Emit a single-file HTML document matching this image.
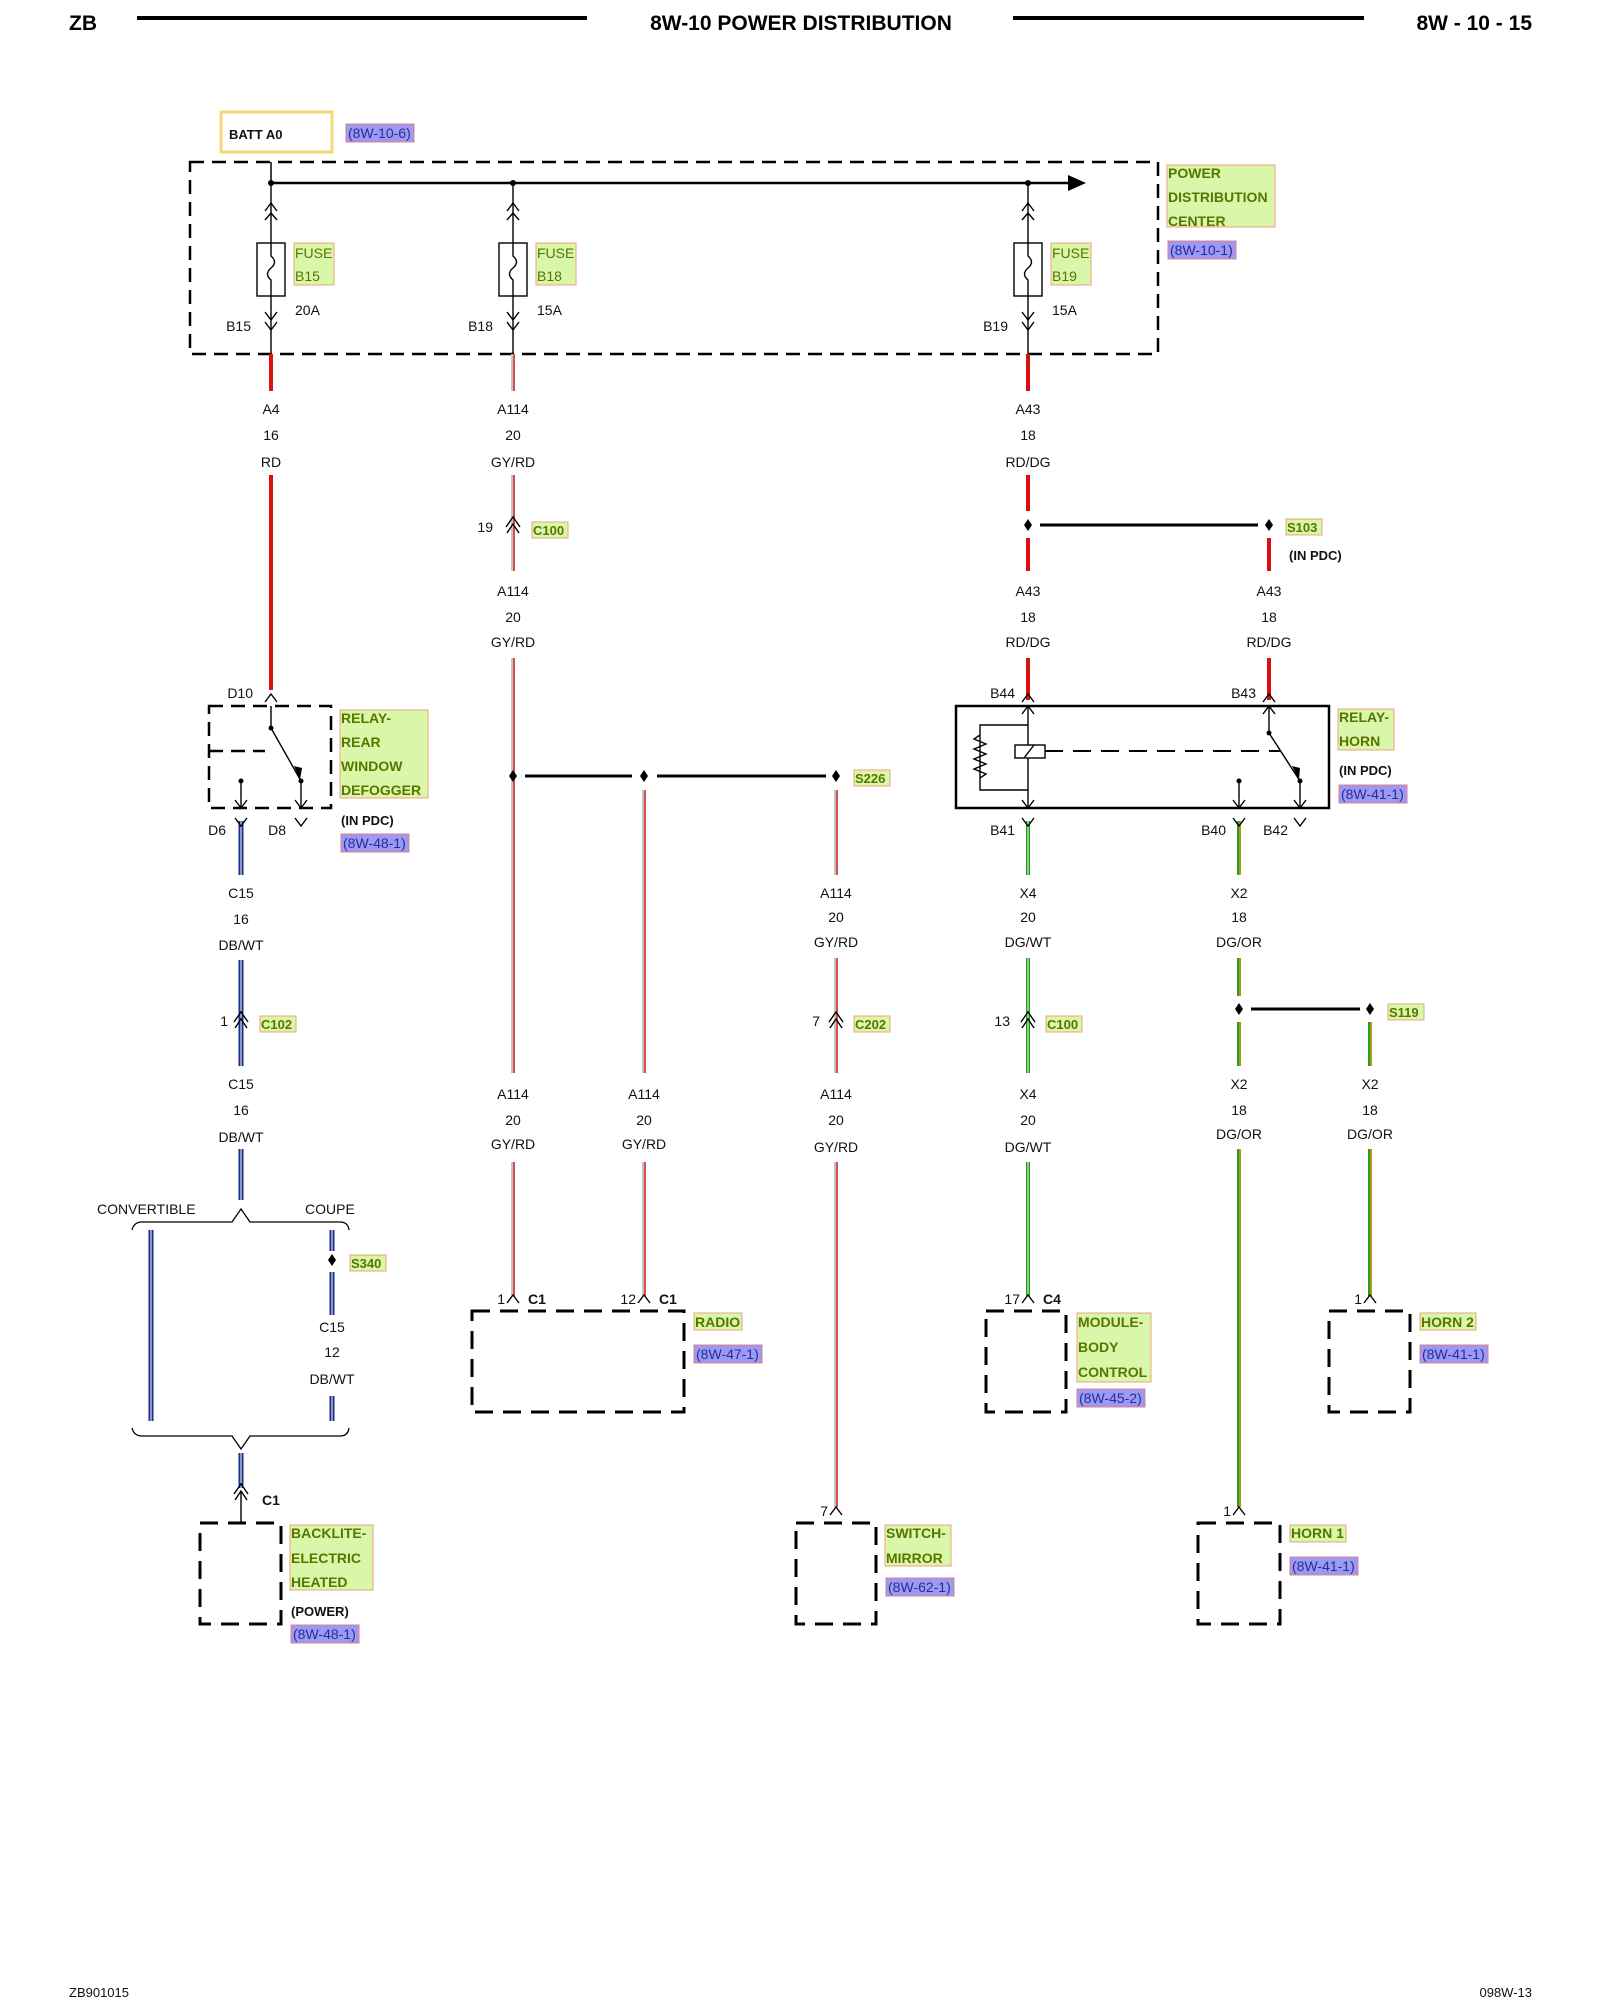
<!DOCTYPE html>
<html><head><meta charset="utf-8"><style>
html,body{margin:0;padding:0;background:#fff;}
svg{display:block;font-family:"Liberation Sans",Arial,sans-serif;}
.t{font-size:14px;fill:#111;text-anchor:middle;}
.tl{font-size:14px;fill:#111;}
.b{font-weight:bold;}
.g{font-size:14px;fill:#5a7400;font-weight:bold;}
.r{font-size:14px;fill:#2a2aa0;}
</style></head><body>
<svg width="1600" height="2000" viewBox="0 0 1600 2000" xmlns="http://www.w3.org/2000/svg">
<!-- header -->
<text x="69" y="30" style="font-size:21px;font-weight:bold">ZB</text>
<line x1="137" y1="18" x2="587" y2="18" stroke="#000" stroke-width="4"/>
<text x="801" y="30" text-anchor="middle" style="font-size:21px;font-weight:bold">8W-10 POWER DISTRIBUTION</text>
<line x1="1013" y1="18" x2="1364" y2="18" stroke="#000" stroke-width="4"/>
<text x="1532" y="30" text-anchor="end" style="font-size:21px;font-weight:bold">8W - 10 - 15</text>

<!-- BATT A0 -->
<rect x="221" y="112" width="111" height="40" fill="#fff" stroke="#f5d77a" stroke-width="3"/>
<text x="229" y="139" class="tl b" style="font-size:13px">BATT A0</text>
<rect x="346" y="124" width="68" height="18" fill="#9a9af0" stroke="#e08090"/>
<text x="348" y="138" class="r">(8W-10-6)</text>

<!-- PDC box -->
<rect x="190" y="162" width="968" height="192" fill="none" stroke="#000" stroke-width="2.5" stroke-dasharray="14,8"/>
<line x1="271" y1="162" x2="271" y2="183" stroke="#000" stroke-width="1.5"/>
<line x1="271" y1="183" x2="1072" y2="183" stroke="#000" stroke-width="2.5"/>
<path d="M1068,175 L1086,183 L1068,191 Z" fill="#000"/>
<g fill="#000"><circle cx="271" cy="183" r="3"/><circle cx="513" cy="183" r="3"/><circle cx="1028" cy="183" r="3"/></g>
<rect x="1167" y="165" width="108" height="62" fill="#d8f7a8" stroke="#f0a080"/>
<text x="1168" y="178" class="g">POWER</text>
<text x="1168" y="202" class="g">DISTRIBUTION</text>
<text x="1168" y="226" class="g">CENTER</text>
<rect x="1168" y="241" width="68" height="18" fill="#9a9af0" stroke="#e08090"/>
<text x="1170" y="255" class="r">(8W-10-1)</text>

<g stroke="#000" stroke-width="1.4" fill="none">
 <line x1="271" y1="183" x2="271" y2="243"/><polyline points="265,211 271,203 277,211"/><polyline points="265,220 271,213 277,220"/>
 <rect x="257" y="243" width="28" height="53" fill="#fff"/><path d="M271,243 V256 q7,6 0,12 q-7,6 0,12 V296"/>
 <line x1="271" y1="296" x2="271" y2="354"/><polyline points="265,312 271,320 277,312"/><polyline points="265,322 271,330 277,322"/>
 <line x1="513" y1="183" x2="513" y2="243"/><polyline points="507,211 513,203 519,211"/><polyline points="507,220 513,213 519,220"/>
 <rect x="499" y="243" width="28" height="53" fill="#fff"/><path d="M513,243 V256 q7,6 0,12 q-7,6 0,12 V296"/>
 <line x1="513" y1="296" x2="513" y2="354"/><polyline points="507,312 513,320 519,312"/><polyline points="507,322 513,330 519,322"/>
 <line x1="1028" y1="183" x2="1028" y2="243"/><polyline points="1022,211 1028,203 1034,211"/><polyline points="1022,220 1028,213 1034,220"/>
 <rect x="1014" y="243" width="28" height="53" fill="#fff"/><path d="M1028,243 V256 q7,6 0,12 q-7,6 0,12 V296"/>
 <line x1="1028" y1="296" x2="1028" y2="354"/><polyline points="1022,312 1028,320 1034,312"/><polyline points="1022,322 1028,330 1034,322"/>
</g>
<g>
 <rect x="294" y="243" width="40" height="42" fill="#d8f7a8" stroke="#f0a080"/>
 <text x="295" y="258" class="g" style="font-weight:normal">FUSE</text><text x="295" y="281" class="g" style="font-weight:normal">B15</text>
 <rect x="536" y="243" width="40" height="42" fill="#d8f7a8" stroke="#f0a080"/>
 <text x="537" y="258" class="g" style="font-weight:normal">FUSE</text><text x="537" y="281" class="g" style="font-weight:normal">B18</text>
 <rect x="1051" y="243" width="40" height="42" fill="#d8f7a8" stroke="#f0a080"/>
 <text x="1052" y="258" class="g" style="font-weight:normal">FUSE</text><text x="1052" y="281" class="g" style="font-weight:normal">B19</text>
 <text x="295" y="315" class="tl">20A</text><text x="537" y="315" class="tl">15A</text><text x="1052" y="315" class="tl">15A</text>
 <text x="251" y="331" class="tl" text-anchor="end">B15</text><text x="493" y="331" class="tl" text-anchor="end">B18</text><text x="1008" y="331" class="tl" text-anchor="end">B19</text>
</g>

<!-- wires -->
<g>
 <line x1="271" y1="354" x2="271" y2="391" stroke="#e01010" stroke-width="4"/>
 <line x1="271" y1="475" x2="271" y2="690" stroke="#e01010" stroke-width="4"/>
 <g stroke="#c4c4c4" stroke-width="4">
  <line x1="513" y1="354" x2="513" y2="391"/><line x1="513" y1="475" x2="513" y2="571"/>
  <line x1="513" y1="658" x2="513" y2="1073"/><line x1="513" y1="1162" x2="513" y2="1296"/>
  <line x1="644" y1="790" x2="644" y2="1073"/><line x1="644" y1="1162" x2="644" y2="1296"/>
  <line x1="836" y1="790" x2="836" y2="875"/><line x1="836" y1="958" x2="836" y2="1073"/><line x1="836" y1="1162" x2="836" y2="1507"/>
 </g>
 <g stroke="#e01010" stroke-width="1.3">
  <line x1="514" y1="354" x2="514" y2="391"/><line x1="514" y1="475" x2="514" y2="571"/>
  <line x1="514" y1="658" x2="514" y2="1073"/><line x1="514" y1="1162" x2="514" y2="1296"/>
  <line x1="645" y1="790" x2="645" y2="1073"/><line x1="645" y1="1162" x2="645" y2="1296"/>
  <line x1="837" y1="790" x2="837" y2="875"/><line x1="837" y1="958" x2="837" y2="1073"/><line x1="837" y1="1162" x2="837" y2="1507"/>
 </g>
 <g stroke="#d81010" stroke-width="4">
  <line x1="1028" y1="354" x2="1028" y2="391"/><line x1="1028" y1="475" x2="1028" y2="511"/>
  <line x1="1028" y1="538" x2="1028" y2="571"/><line x1="1028" y1="658" x2="1028" y2="700"/>
  <line x1="1269" y1="538" x2="1269" y2="571"/><line x1="1269" y1="658" x2="1269" y2="700"/>
 </g>
 <g stroke="#1a2f8a" stroke-width="5">
  <line x1="241" y1="821" x2="241" y2="875"/><line x1="241" y1="960" x2="241" y2="1066"/><line x1="241" y1="1149" x2="241" y2="1200"/>
  <line x1="151" y1="1230" x2="151" y2="1421"/><line x1="332" y1="1230" x2="332" y2="1251"/><line x1="332" y1="1272" x2="332" y2="1315"/>
  <line x1="332" y1="1396" x2="332" y2="1421"/><line x1="241" y1="1453" x2="241" y2="1488"/>
 </g>
 <g stroke="#fff" stroke-width="1">
  <line x1="241" y1="821" x2="241" y2="875"/><line x1="241" y1="960" x2="241" y2="1066"/><line x1="241" y1="1149" x2="241" y2="1200"/>
  <line x1="151" y1="1230" x2="151" y2="1421"/><line x1="332" y1="1230" x2="332" y2="1251"/><line x1="332" y1="1272" x2="332" y2="1315"/>
  <line x1="332" y1="1396" x2="332" y2="1421"/><line x1="241" y1="1453" x2="241" y2="1488"/>
 </g>
 <g stroke="#1d9a1d" stroke-width="4">
  <line x1="1028" y1="821" x2="1028" y2="875"/><line x1="1028" y1="958" x2="1028" y2="1073"/><line x1="1028" y1="1162" x2="1028" y2="1296"/>
 </g>
 <g stroke="#fff" stroke-width="1">
  <line x1="1028" y1="821" x2="1028" y2="875"/><line x1="1028" y1="958" x2="1028" y2="1073"/><line x1="1028" y1="1162" x2="1028" y2="1296"/>
 </g>
 <g stroke="#2a9a2a" stroke-width="4">
  <line x1="1239" y1="821" x2="1239" y2="875"/><line x1="1239" y1="958" x2="1239" y2="996"/><line x1="1239" y1="1022" x2="1239" y2="1066"/>
  <line x1="1239" y1="1149" x2="1239" y2="1507"/>
  <line x1="1370" y1="1022" x2="1370" y2="1066"/><line x1="1370" y1="1149" x2="1370" y2="1296"/>
 </g>
 <g stroke="#e8a000" stroke-width="1.3">
  <line x1="1240" y1="821" x2="1240" y2="875"/><line x1="1240" y1="958" x2="1240" y2="996"/><line x1="1240" y1="1022" x2="1240" y2="1066"/>
  <line x1="1240" y1="1149" x2="1240" y2="1507"/>
  <line x1="1371" y1="1022" x2="1371" y2="1066"/><line x1="1371" y1="1149" x2="1371" y2="1296"/>
 </g>
</g>

<!-- wire labels -->
<g>
 <text x="271" y="414" class="t">A4</text><text x="271" y="440" class="t">16</text><text x="271" y="467" class="t">RD</text>
 <text x="513" y="414" class="t">A114</text><text x="513" y="440" class="t">20</text><text x="513" y="467" class="t">GY/RD</text>
 <text x="1028" y="414" class="t">A43</text><text x="1028" y="440" class="t">18</text><text x="1028" y="467" class="t">RD/DG</text>
 <text x="513" y="596" class="t">A114</text><text x="513" y="622" class="t">20</text><text x="513" y="647" class="t">GY/RD</text>
 <text x="1028" y="596" class="t">A43</text><text x="1028" y="622" class="t">18</text><text x="1028" y="647" class="t">RD/DG</text>
 <text x="1269" y="596" class="t">A43</text><text x="1269" y="622" class="t">18</text><text x="1269" y="647" class="t">RD/DG</text>
 <text x="241" y="898" class="t">C15</text><text x="241" y="924" class="t">16</text><text x="241" y="950" class="t">DB/WT</text>
 <text x="836" y="898" class="t">A114</text><text x="836" y="922" class="t">20</text><text x="836" y="947" class="t">GY/RD</text>
 <text x="1028" y="898" class="t">X4</text><text x="1028" y="922" class="t">20</text><text x="1028" y="947" class="t">DG/WT</text>
 <text x="1239" y="898" class="t">X2</text><text x="1239" y="922" class="t">18</text><text x="1239" y="947" class="t">DG/OR</text>
 <text x="241" y="1089" class="t">C15</text><text x="241" y="1115" class="t">16</text><text x="241" y="1142" class="t">DB/WT</text>
 <text x="513" y="1099" class="t">A114</text><text x="513" y="1125" class="t">20</text><text x="513" y="1149" class="t">GY/RD</text>
 <text x="644" y="1099" class="t">A114</text><text x="644" y="1125" class="t">20</text><text x="644" y="1149" class="t">GY/RD</text>
 <text x="836" y="1099" class="t">A114</text><text x="836" y="1125" class="t">20</text><text x="836" y="1152" class="t">GY/RD</text>
 <text x="1028" y="1099" class="t">X4</text><text x="1028" y="1125" class="t">20</text><text x="1028" y="1152" class="t">DG/WT</text>
 <text x="1239" y="1089" class="t">X2</text><text x="1239" y="1115" class="t">18</text><text x="1239" y="1139" class="t">DG/OR</text>
 <text x="1370" y="1089" class="t">X2</text><text x="1370" y="1115" class="t">18</text><text x="1370" y="1139" class="t">DG/OR</text>
 <text x="332" y="1332" class="t">C15</text><text x="332" y="1357" class="t">12</text><text x="332" y="1384" class="t">DB/WT</text>
</g>

<!-- inline connectors -->
<g stroke="#000" stroke-width="1.4" fill="none">
 <polyline points="507,533 513,524 519,533"/><polyline points="506,527 513,517 520,527"/>
 <polyline points="235,1028 241,1019 247,1028"/><polyline points="234,1022 241,1012 248,1022"/>
 <polyline points="830,1028 836,1019 842,1028"/><polyline points="829,1022 836,1012 843,1022"/>
 <polyline points="1022,1028 1028,1019 1034,1028"/><polyline points="1021,1022 1028,1012 1035,1022"/>
</g>
<text x="493" y="532" class="tl" text-anchor="end">19</text>
<text x="228" y="1026" class="tl" text-anchor="end">1</text>
<text x="820" y="1026" class="tl" text-anchor="end">7</text>
<text x="1010" y="1026" class="tl" text-anchor="end">13</text>
<g>
 <rect x="532" y="522" width="36" height="16" fill="#d8f7a8" stroke="#f0a080"/><text x="533" y="535" class="g" style="font-size:13px">C100</text>
 <rect x="260" y="1016" width="36" height="16" fill="#d8f7a8" stroke="#f0a080"/><text x="261" y="1029" class="g" style="font-size:13px">C102</text>
 <rect x="854" y="1016" width="36" height="16" fill="#d8f7a8" stroke="#f0a080"/><text x="855" y="1029" class="g" style="font-size:13px">C202</text>
 <rect x="1046" y="1016" width="36" height="16" fill="#d8f7a8" stroke="#f0a080"/><text x="1047" y="1029" class="g" style="font-size:13px">C100</text>
</g>

<!-- splices -->
<g stroke="#000" stroke-width="3">
 <line x1="1040" y1="525" x2="1258" y2="525"/>
 <line x1="525" y1="776" x2="632" y2="776"/><line x1="657" y1="776" x2="826" y2="776"/>
 <line x1="1251" y1="1009" x2="1360" y2="1009"/>
</g>
<g fill="#000">
 <path d="M1028,519 l4,6 l-4,6 l-4,-6z"/><path d="M1269,519 l4,6 l-4,6 l-4,-6z"/>
 <path d="M513,770 l4,6 l-4,6 l-4,-6z"/><path d="M644,770 l4,6 l-4,6 l-4,-6z"/><path d="M836,770 l4,6 l-4,6 l-4,-6z"/>
 <path d="M1239,1003 l4,6 l-4,6 l-4,-6z"/><path d="M1370,1003 l4,6 l-4,6 l-4,-6z"/>
 <path d="M332,1254 l4,6 l-4,6 l-4,-6z"/>
</g>
<rect x="1286" y="519" width="36" height="16" fill="#d8f7a8" stroke="#f0a080"/><text x="1287" y="532" class="g" style="font-size:13px">S103</text>
<text x="1289" y="560" class="tl b" style="font-size:13px">(IN PDC)</text>
<rect x="854" y="770" width="36" height="16" fill="#d8f7a8" stroke="#f0a080"/><text x="855" y="783" class="g" style="font-size:13px">S226</text>
<rect x="1388" y="1004" width="36" height="16" fill="#d8f7a8" stroke="#f0a080"/><text x="1389" y="1017" class="g" style="font-size:13px">S119</text>
<rect x="350" y="1255" width="36" height="16" fill="#d8f7a8" stroke="#f0a080"/><text x="351" y="1268" class="g" style="font-size:13px">S340</text>

<!-- defogger relay -->
<g stroke="#000" stroke-width="1.4" fill="none">
 <polyline points="265,702 271,694 277,702"/>
 <rect x="209" y="706" width="122" height="102" stroke-width="2.5" stroke-dasharray="14,8"/>
 <line x1="271" y1="706" x2="271" y2="728"/><line x1="271" y1="728" x2="301" y2="781"/>
 <line x1="209" y1="751" x2="265" y2="751" stroke-width="2.5" stroke-dasharray="14,8"/>
 <line x1="241" y1="781" x2="241" y2="808"/><line x1="301" y1="781" x2="301" y2="808"/>
 <polyline points="235,800 241,808 247,800"/><polyline points="295,800 301,808 307,800"/>
 <polyline points="235,818 241,826 247,818"/><polyline points="295,818 301,826 307,818"/>
</g>
<path d="M294,766 l6,14 l2,-12 z" fill="#000"/>
<circle cx="271" cy="728" r="2.5"/><circle cx="241" cy="781" r="2.5"/><circle cx="301" cy="781" r="2.5"/>
<text x="253" y="698" class="tl" text-anchor="end">D10</text>
<text x="226" y="835" class="tl" text-anchor="end">D6</text>
<text x="286" y="835" class="tl" text-anchor="end">D8</text>
<rect x="340" y="710" width="88" height="88" fill="#d8f7a8" stroke="#f0a080"/>
<text x="341" y="723" class="g">RELAY-</text><text x="341" y="747" class="g">REAR</text><text x="341" y="771" class="g">WINDOW</text><text x="341" y="795" class="g">DEFOGGER</text>
<text x="341" y="825" class="tl b" style="font-size:13px">(IN PDC)</text>
<rect x="341" y="834" width="68" height="18" fill="#9a9af0" stroke="#e08090"/><text x="343" y="848" class="r">(8W-48-1)</text>

<!-- horn relay -->
<g stroke="#000" stroke-width="1.4" fill="none">
 <polyline points="1022,702 1028,694 1034,702"/><polyline points="1263,702 1269,694 1275,702"/>
 <rect x="956" y="706" width="373" height="102" stroke-width="2.5"/>
 <line x1="1028" y1="706" x2="1028" y2="808"/>
 <polyline points="1022,714 1028,706 1034,714"/><polyline points="1022,800 1028,808 1034,800"/>
 <polyline points="1028,725 980,725 980,790 1028,790"/>
 <path d="M980,735 l-6,4 l12,5 l-12,5 l12,5 l-12,5 l12,5 l-12,5 l12,5 l-6,4"/>
 <rect x="1015" y="745" width="30" height="13" fill="#fff"/><line x1="1024" y1="758" x2="1034" y2="745"/>
 <line x1="1045" y1="751" x2="1280" y2="751" stroke-width="2" stroke-dasharray="18,10"/>
 <line x1="1269" y1="706" x2="1269" y2="733"/><line x1="1269" y1="733" x2="1300" y2="781"/>
 <polyline points="1263,714 1269,706 1275,714"/>
 <line x1="1239" y1="781" x2="1239" y2="808"/><line x1="1300" y1="781" x2="1300" y2="808"/>
 <polyline points="1233,800 1239,808 1245,800"/><polyline points="1294,800 1300,808 1306,800"/>
 <polyline points="1022,818 1028,826 1034,818"/><polyline points="1233,818 1239,826 1245,818"/><polyline points="1294,818 1300,826 1306,818"/>
</g>
<path d="M1292,766 l7,14 l1,-12 z" fill="#000"/>
<circle cx="1269" cy="733" r="2.5"/><circle cx="1239" cy="781" r="2.5"/><circle cx="1300" cy="781" r="2.5"/>
<text x="1015" y="698" class="tl" text-anchor="end">B44</text>
<text x="1256" y="698" class="tl" text-anchor="end">B43</text>
<text x="1015" y="835" class="tl" text-anchor="end">B41</text>
<text x="1226" y="835" class="tl" text-anchor="end">B40</text>
<text x="1288" y="835" class="tl" text-anchor="end">B42</text>
<rect x="1338" y="709" width="56" height="41" fill="#d8f7a8" stroke="#f0a080"/>
<text x="1339" y="722" class="g">RELAY-</text><text x="1339" y="746" class="g">HORN</text>
<text x="1339" y="775" class="tl b" style="font-size:13px">(IN PDC)</text>
<rect x="1339" y="785" width="68" height="18" fill="#9a9af0" stroke="#e08090"/><text x="1341" y="799" class="r">(8W-41-1)</text>

<!-- braces -->
<g stroke="#000" stroke-width="1.3" fill="none">
 <path d="M132,1230 Q134,1222 142,1222 L232,1222 L241,1209 L250,1222 L340,1222 Q348,1222 349,1230"/>
 <path d="M132,1428 Q134,1436 142,1436 L232,1436 L241,1449 L250,1436 L340,1436 Q348,1436 349,1428"/>
</g>
<text x="97" y="1214" class="tl">CONVERTIBLE</text>
<text x="305" y="1214" class="tl">COUPE</text>

<!-- C1 backlite -->
<g stroke="#000" stroke-width="1.4" fill="none">
 <polyline points="235,1500 241,1491 247,1500"/><polyline points="234,1494 241,1484 248,1494"/>
 <line x1="241" y1="1491" x2="241" y2="1523"/>
</g>
<text x="262" y="1505" class="tl b">C1</text>

<!-- component boxes -->
<g stroke="#000" stroke-width="3" fill="none" stroke-dasharray="18,10">
 <rect x="200" y="1523" width="81" height="101"/>
 <rect x="472" y="1311" width="212" height="101"/>
 <rect x="986" y="1311" width="80" height="101"/>
 <rect x="1329" y="1311" width="81" height="101"/>
 <rect x="796" y="1523" width="80" height="101"/>
 <rect x="1198" y="1523" width="82" height="101"/>
</g>
<g stroke="#000" stroke-width="1.4" fill="none">
 <polyline points="507,1303 513,1295 519,1303"/><polyline points="638,1303 644,1295 650,1303"/>
 <polyline points="1022,1303 1028,1295 1034,1303"/><polyline points="1364,1303 1370,1295 1376,1303"/>
 <polyline points="830,1515 836,1507 842,1515"/><polyline points="1233,1515 1239,1507 1245,1515"/>
</g>
<text x="505" y="1304" class="tl" text-anchor="end">1</text><text x="528" y="1304" class="tl b">C1</text>
<text x="636" y="1304" class="tl" text-anchor="end">12</text><text x="659" y="1304" class="tl b">C1</text>
<text x="1020" y="1304" class="tl" text-anchor="end">17</text><text x="1043" y="1304" class="tl b">C4</text>
<text x="1362" y="1304" class="tl" text-anchor="end">1</text>
<text x="828" y="1516" class="tl" text-anchor="end">7</text>
<text x="1231" y="1516" class="tl" text-anchor="end">1</text>

<rect x="694" y="1313" width="48" height="17" fill="#d8f7a8" stroke="#f0a080"/><text x="695" y="1327" class="g">RADIO</text>
<rect x="694" y="1345" width="68" height="18" fill="#9a9af0" stroke="#e08090"/><text x="696" y="1359" class="r">(8W-47-1)</text>
<rect x="1077" y="1313" width="74" height="69" fill="#d8f7a8" stroke="#f0a080"/>
<text x="1078" y="1327" class="g">MODULE-</text><text x="1078" y="1352" class="g">BODY</text><text x="1078" y="1377" class="g">CONTROL</text>
<rect x="1077" y="1389" width="68" height="18" fill="#9a9af0" stroke="#e08090"/><text x="1079" y="1403" class="r">(8W-45-2)</text>
<rect x="1420" y="1313" width="56" height="17" fill="#d8f7a8" stroke="#f0a080"/><text x="1421" y="1327" class="g">HORN 2</text>
<rect x="1420" y="1345" width="68" height="18" fill="#9a9af0" stroke="#e08090"/><text x="1422" y="1359" class="r">(8W-41-1)</text>
<rect x="290" y="1525" width="83" height="65" fill="#d8f7a8" stroke="#f0a080"/>
<text x="291" y="1538" class="g">BACKLITE-</text><text x="291" y="1563" class="g">ELECTRIC</text><text x="291" y="1587" class="g">HEATED</text>
<text x="291" y="1616" class="tl b" style="font-size:13px">(POWER)</text>
<rect x="291" y="1625" width="68" height="18" fill="#9a9af0" stroke="#e08090"/><text x="293" y="1639" class="r">(8W-48-1)</text>
<rect x="885" y="1525" width="66" height="41" fill="#d8f7a8" stroke="#f0a080"/>
<text x="886" y="1538" class="g">SWITCH-</text><text x="886" y="1563" class="g">MIRROR</text>
<rect x="886" y="1578" width="68" height="18" fill="#9a9af0" stroke="#e08090"/><text x="888" y="1592" class="r">(8W-62-1)</text>
<rect x="1290" y="1525" width="56" height="17" fill="#d8f7a8" stroke="#f0a080"/><text x="1291" y="1538" class="g">HORN 1</text>
<rect x="1290" y="1557" width="68" height="18" fill="#9a9af0" stroke="#e08090"/><text x="1292" y="1571" class="r">(8W-41-1)</text>

<!-- footer -->
<text x="69" y="1997" class="tl" style="font-size:13px">ZB901015</text>
<text x="1532" y="1997" class="tl" text-anchor="end" style="font-size:13px">098W-13</text>
</svg>
</body></html>
